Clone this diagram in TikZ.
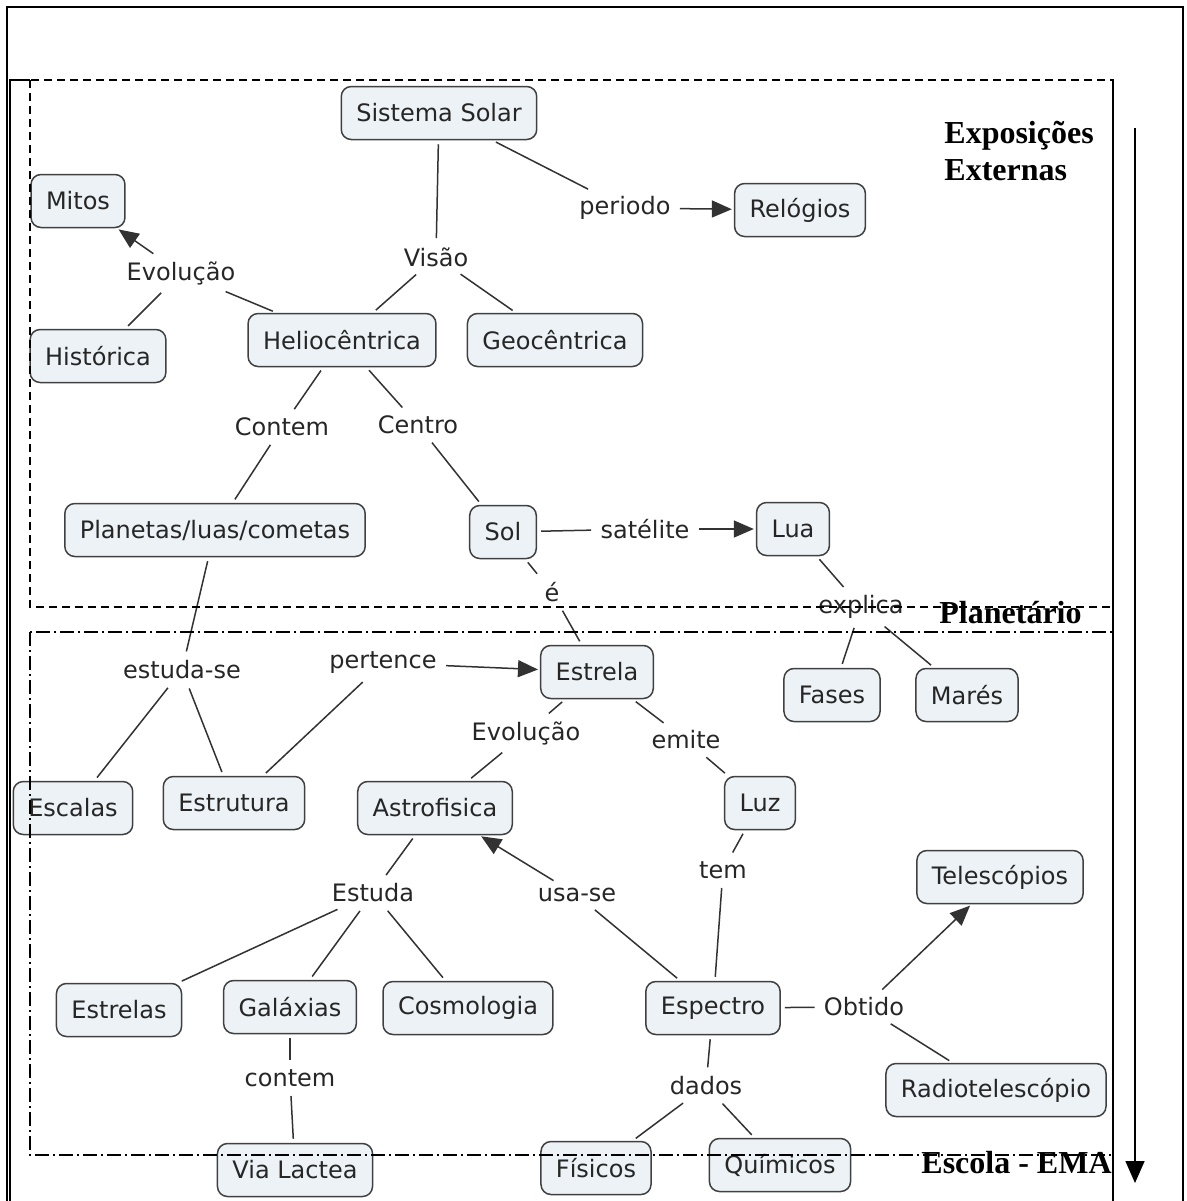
\documentclass[tikz,border=0pt]{standalone}
\usepackage{fontspec}
\usepackage{tikz}
\usetikzlibrary{shapes.geometric, arrows.meta}
\newfontfamily\mapfont{DejaVu Sans}
\newfontfamily\areafont{Liberation Serif}
\definecolor{conceptfill}{RGB}{236,242,245}
\definecolor{linkgray}{RGB}{50,50,50}
\tikzstyle{concept} = [rectangle, rounded corners=5pt, minimum height=26.5pt, inner xsep=7.5pt, text centered, draw=black!75, line width=0.75pt, fill=conceptfill, text=black!85, font={\mapfont\fontsize{12}{14}\selectfont}]
\tikzstyle{phrase} = [inner sep=2.5pt, text=black!85, font={\mapfont\fontsize{12}{14}\selectfont}]
\tikzstyle{link} = [draw=linkgray, line width=0.75pt, shorten <=2pt, shorten >=2pt]
\tikzstyle{arrow} = [link, shorten >=1pt, -{Triangle[length=10pt,width=8.5pt]}]
\tikzstyle{area} = [inner sep=0pt, font={\areafont\bfseries\fontsize{16}{18.5}\selectfont}]

\begin{document}
\begin{tikzpicture}[x=0.5pt, y=-0.5pt, node distance=50pt]
        \useasboundingbox (0,0) rectangle (1187,1201);

        \node (sistema) [concept] at (439,113) {Sistema Solar};
        \node (visao) [phrase, below of=sistema, xshift=-1.5pt, yshift=-22pt] {Visão};
        \node (helio) [concept, below of=visao, xshift=-47pt, yshift=8.5pt] {Heliocêntrica};
        \node (geo) [concept, right of=helio, xshift=56.5pt] {Geocêntrica};
        \node (periodo) [phrase, right of=sistema, xshift=43pt, yshift=-47.5pt] {periodo};
        \node (relogios) [concept, right of=periodo, xshift=37.5pt, yshift=-1pt] {Relógios};
        \node (evolucaoA) [phrase, left of=helio, xshift=-30.5pt, yshift=33.5pt] {Evolução};
        \node (mitos) [concept, left of=evolucaoA, xshift=-1.5pt, yshift=36pt] {Mitos};
        \node (historica) [concept, below of=evolucaoA, xshift=-41.5pt, yshift=8.5pt] {Histórica};
        \node (contemA) [phrase, below of=helio, xshift=-30pt, yshift=6.5pt] {Contem};
        \node (centro) [phrase, below of=helio, xshift=38pt, yshift=7.5pt] {Centro};
        \node (planetas) [concept, below of=contemA, xshift=-33.5pt, yshift=-1.5pt] {Planetas/luas/cometas};
        \node (sol) [concept, below of=centro, xshift=42.5pt, yshift=-3.5pt] {Sol};
        \node (satelite) [phrase, right of=sol, xshift=21pt, yshift=1.5pt] {satélite};
        \node (lua) [concept, right of=satelite, xshift=24pt] {Lua};
        \node (explica) [phrase, below of=lua, xshift=34pt, yshift=11pt] {explica};
        \node (fases) [concept, below of=explica, xshift=-14.5pt, yshift=6pt] {Fases};
        \node (mares) [concept, right of=fases, xshift=17.5pt] {Marés};
        \node (e) [phrase, below of=sol, xshift=24.5pt, yshift=20pt] {é};
        \node (estrela) [concept, below of=e, xshift=22.5pt, yshift=10pt] {Estrela};
        \node (estudase) [phrase, below of=planetas, xshift=-16.5pt, yshift=-20pt] {estuda-se};
        \node (escalas) [concept, below of=estudase, xshift=-54.5pt, yshift=-19pt] {Escalas};
        \node (estrutura) [concept, below of=estudase, xshift=26pt, yshift=-16.5pt] {Estrutura};
        \node (pertence) [phrase, left of=estrela, xshift=-57pt, yshift=4.5pt] {pertence};
        \node (evolucaoB) [phrase, below of=estrela, xshift=-35.5pt, yshift=19.5pt] {Evolução};
        \node (emite) [phrase, below of=estrela, xshift=44.5pt, yshift=16pt] {emite};
        \node (astro) [concept, below of=evolucaoB, xshift=-45.5pt, yshift=12.5pt] {Astrofisica};
        \node (luz) [concept, below of=emite, xshift=37pt, yshift=18.5pt] {Luz};
        \node (tem) [phrase, below of=luz, xshift=-18.5pt, yshift=16.5pt] {tem};
        \node (espectro) [concept, below of=tem, xshift=-5pt, yshift=-19pt] {Espectro};
        \node (usase) [phrase, left of=espectro, xshift=-18pt, yshift=56.5pt] {usa-se};
        \node (estuda) [phrase, below of=astro, xshift=-31pt, yshift=7.5pt] {Estuda};
        \node (estrelas) [concept, below of=estuda, xshift=-127pt, yshift=-8.5pt] {Estrelas};
        \node (galaxias) [concept, below of=estuda, xshift=-41.5pt, yshift=-7pt] {Galáxias};
        \node (cosmologia) [concept, below of=estuda, xshift=47.5pt, yshift=-7.5pt] {Cosmologia};
        \node (contemB) [phrase, below of=galaxias, yshift=14.5pt] {contem};
        \node (vialactea) [concept, below of=contemB, xshift=2.5pt, yshift=4pt] {Via Lactea};
        \node (obtido) [phrase, right of=espectro, xshift=25.5pt, yshift=0.5pt] {Obtido};
        \node (telescopios) [concept, right of=obtido, xshift=18pt, yshift=65pt] {Telescópios};
        \node (radio) [concept, right of=obtido, xshift=16pt, yshift=-41.5pt] {Radiotelescópio};
        \node (dados) [phrase, below of=espectro, xshift=-3.5pt, yshift=11pt] {dados};
        \node (fisicos) [concept, below of=dados, xshift=-55pt, yshift=9pt] {Físicos};
        \node (quimicos) [concept, below of=dados, xshift=37pt, yshift=10.5pt] {Químicos};

        \draw [link] (sistema) -- (visao);
        \draw [link] (visao) -- (helio);
        \draw [link] (visao) -- (geo);
        \draw [link] (sistema) -- (periodo);
        \draw [arrow] (periodo) -- (relogios);
        \draw [link] (helio) -- (evolucaoA);
        \draw [arrow] (evolucaoA) -- (mitos);
        \draw [link] (evolucaoA) -- (historica);
        \draw [link] (helio) -- (contemA);
        \draw [link] (contemA) -- (planetas);
        \draw [link] (helio) -- (centro);
        \draw [link] (centro) -- (sol);
        \draw [link] (sol) -- (satelite);
        \draw [arrow] (satelite) -- (lua);
        \draw [link] (lua) -- (explica);
        \draw [link] (explica) -- (fases);
        \draw [link] (explica) -- (mares);
        \draw [link] (sol) -- (e);
        \draw [link] (e) -- (estrela);
        \draw [link] (planetas) -- (estudase);
        \draw [link] (estudase) -- (escalas);
        \draw [link] (estudase) -- (estrutura);
        \draw [link] (estrutura) -- (pertence);
        \draw [arrow] (pertence) -- (estrela);
        \draw [link] (estrela) -- (evolucaoB);
        \draw [link] (evolucaoB) -- (astro);
        \draw [link] (estrela) -- (emite);
        \draw [link] (emite) -- (luz);
        \draw [link] (luz) -- (tem);
        \draw [link] (tem) -- (espectro);
        \draw [link] (espectro) -- (usase);
        \draw [arrow] (usase) -- (astro);
        \draw [link] (astro) -- (estuda);
        \draw [link] (estuda) -- (estrelas);
        \draw [link] (estuda) -- (galaxias);
        \draw [link] (estuda) -- (cosmologia);
        \draw [link] (galaxias) -- (contemB);
        \draw [link] (contemB) -- (vialactea);
        \draw [link] (espectro) -- (obtido);
        \draw [arrow] (obtido) -- (telescopios);
        \draw [link] (obtido) -- (radio);
        \draw [link] (espectro) -- (dados);
        \draw [link] (dados) -- (fisicos);
        \draw [link] (dados) -- (quimicos);

        % frames
        \draw [line width=1pt] (7,1201) -- (7,7) -- (1183,7) -- (1183,1201);
        \draw [line width=1pt] (10,1201) -- (10,80) -- (30,80);
        \draw [line width=1.2pt] (1113,80) -- (1113,1201);
        \draw [line width=0.8pt, dash pattern=on 4pt off 2.5pt] (30,80) rectangle (1113,607);
        \draw [line width=0.8pt, dash pattern=on 7pt off 2pt on 1pt off 2pt] (30,632) rectangle (1113,1155);
        \draw [line width=0.8pt, -{Triangle[length=11pt,width=9.5pt]}] (1135,128) -- (1135,1183);

        \node (externas) [area, anchor=north west, align=left] at (944,121) {Exposições\\Externas};
        \node (planetario) [area, anchor=base west] at (939,623) {Planetário};
        \node (escola) [area, anchor=base west] at (921,1173) {Escola - EMA};

\end{tikzpicture}
\end{document}
